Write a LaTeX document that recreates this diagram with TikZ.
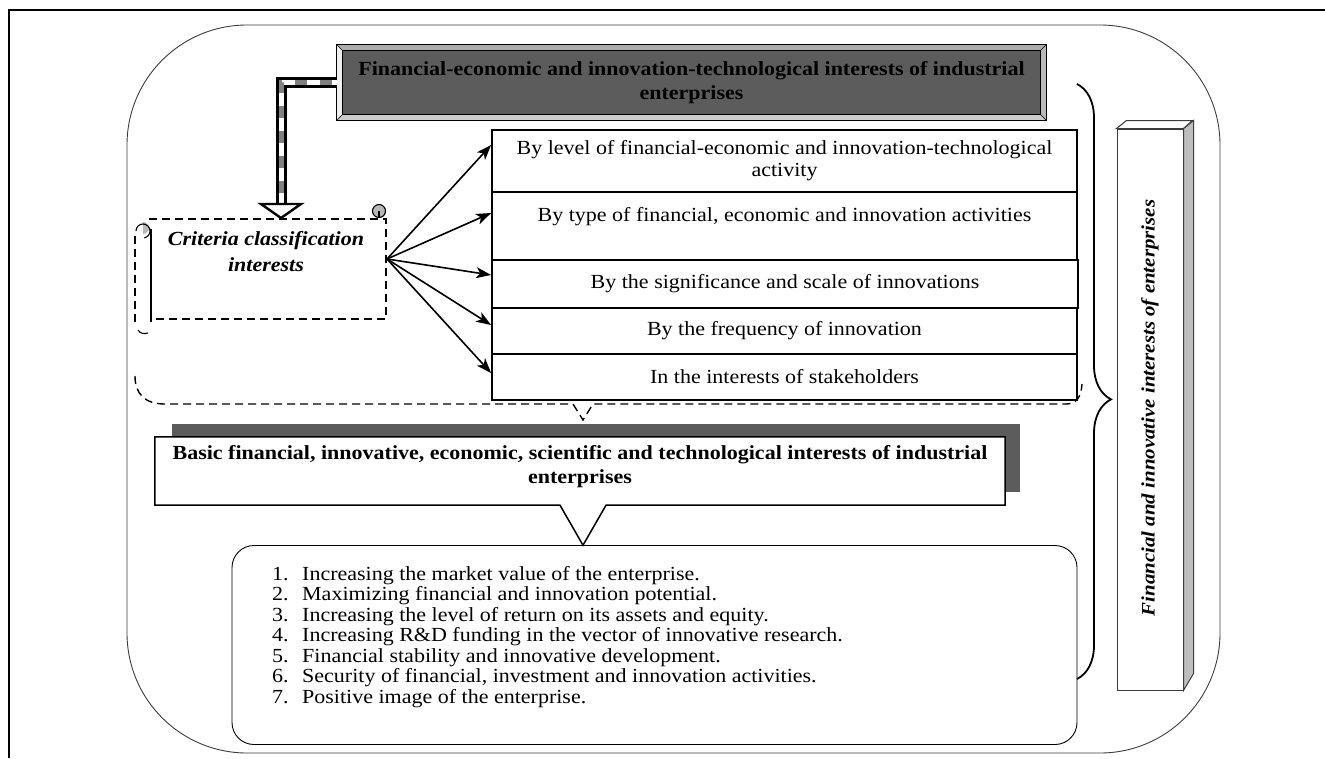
\documentclass[tikz,border=0pt]{standalone}
\usepackage{fontspec}
\setmainfont{Liberation Serif}[FakeStretch=1.1]
\usetikzlibrary{arrows.meta,decorations.pathreplacing,calc}
\definecolor{darkbox}{RGB}{92,92,92}
\definecolor{sidegray}{RGB}{190,190,190}
\definecolor{framegray}{RGB}{60,60,60}
\begin{document}
\begin{tikzpicture}[x=1pt,y=-1pt,
  rowbox/.style={draw, line width=1.8pt, minimum width=585pt, inner sep=0pt, align=center, font=\fontsize{20}{22}\selectfont},
  arr/.style={-{Stealth[length=15pt,width=11pt,inset=4pt]}, line width=1.6pt},
  mydash/.style={dash pattern=on 8pt off 5pt, line width=1.4pt},
  listitem/.style={anchor=base west, inner sep=0pt, font=\fontsize{20}{21}\selectfont},
  boldtxt/.style={align=center, font=\fontsize{20}{24}\selectfont\bfseries, inner sep=0pt}
]
\useasboundingbox (0,0) rectangle (1325,758);
% outer frame
\draw[line width=2.5pt] (9,758) -- (9,10) -- (1325,10);
\draw[framegray, line width=0.9pt, rounded corners=120pt] (127,25) rectangle (1220,753);

% title box with bevel
\node[draw, line width=1.2pt, fill=gray!45, minimum width=709pt, minimum height=75pt, inner sep=0pt] (title) at (691.5,82.5) {};
\fill[gray!12] (title.north west) -- ++(6,6) -- ($(title.south west)+(6,-6)$) -- (title.south west) -- cycle;
\fill[gray!65] (title.north west) -- ++(6,6) -- ($(title.north east)+(-6,6)$) -- (title.north east) -- cycle;
\fill[gray!40] (title.south west) -- ++(6,-6) -- ($(title.south east)+(-6,-6)$) -- (title.south east) -- cycle;
\fill[gray!55] (title.north east) -- ++(-6,6) -- ($(title.south east)+(-6,-6)$) -- (title.south east) -- cycle;
\draw[line width=1.2pt] (title.north west) rectangle (title.south east);
\draw[line width=0.8pt, fill=darkbox] ($(title.north west)+(6,6)$) rectangle ($(title.south east)+(-6,-6)$);
\draw[line width=0.6pt] (title.north west) -- ++(6,6) (title.north east) -- ++(-6,6)
  (title.south west) -- ++(6,-6) (title.south east) -- ++(-6,-6);
\node[boldtxt] (titletext) at (691.5,82.5) {Financial-economic and innovation-technological interests of industrial\\enterprises};

% double arrow
\coordinate (ahead) at (281,204);
\draw[line width=11pt, miter limit=10] (title.west) -| (ahead);
\draw[white, line width=5pt] ($(title.west)+(1,0)$) -| (ahead);
\draw[gray, line width=5pt, dash pattern=on 12pt off 13pt, dash phase=20pt] ($(title.west)+(1,0)$) -| (ahead);
\draw[line width=2.4pt, fill=white, line join=miter] ($(ahead)+(-20,0)$) -- ($(ahead)+(20,0)$) -- ($(ahead)+(0,14)$) -- cycle;

% criteria scroll
\draw[mydash] (149,219) -- (386,219) -- (386,319) -- (153,319);
\draw[mydash] (135,236) -- (135,326);
\draw[line width=1.2pt] (151,229) -- (151,322);
\fill[gray!55] (143,222) arc[start angle=270, end angle=450, radius=6] -- cycle;
\draw[line width=1.1pt] (136,231) arc[start angle=180, end angle=440, radius=7];
\draw[line width=1.1pt] (138,330) .. controls (140,334) and (145,334) .. (148,333);
\draw[line width=1.1pt, fill=gray!55] (379,211) circle (6.5);
\draw[line width=1.1pt] (379,211) -- (379,218);
\node[boldtxt, font=\fontsize{20}{26}\selectfont\bfseries\itshape] (crit) at (266,252) {Criteria classification\\interests};
\coordinate (critout) at (387,259);

% rows
\node[rowbox, minimum height=62pt] (r1) at (784.5,161) {By level of financial-economic and innovation-technological\\activity};
\node[rowbox, minimum height=68pt] (r2) at (784.5,226) {By type of financial, economic and innovation activities\\[2pt]\mbox{}};
\node[rowbox, minimum height=48pt, minimum width=586pt] (r3) at (785,284) {By the significance and scale of innovations};
\node[rowbox, minimum height=46pt] (r4) at (784.5,331) {By the frequency of innovation};
\node[rowbox, minimum height=46pt] (r5) at (784.5,377) {In the interests of stakeholders};

\draw[arr] (critout) -- ([yshift=16pt]r1.west);
\draw[arr] (critout) -- ([yshift=13pt]r2.west);
\draw[arr] (critout) -- ([yshift=9pt]r3.west);
\draw[arr] (critout) -- ([yshift=6pt]r4.west);
\draw[arr] (critout) -- ([yshift=4pt]r5.west);

% big dashed callout bottom
\draw[mydash] (135,376) .. controls (135,394) and (145,404) .. (165,404) -- (573,404) -- (583,420) -- (593,404) -- (1066,404) .. controls (1076,404) and (1081,398) .. (1082,384);

% brace
\draw[line width=1.8pt, decorate, decoration={brace, amplitude=34pt, aspect=0.53}] (1077,84) -- (1077,679);

% vertical 3D box
\node[draw=framegray, line width=1pt, fill=white, minimum width=66pt, minimum height=561pt, inner sep=0pt] (vbox) at (1150,409.5) {};
\draw[framegray, line width=1pt, fill=white] (vbox.north west) -- ++(10,-8) -- ++(66,0) -- (vbox.north east) -- cycle;
\draw[framegray, line width=1pt, fill=sidegray] (vbox.north east) -- ++(10,-8) -- ++(0,553) -- (vbox.south east) -- cycle;
\node[rotate=90, inner sep=0pt, font=\fontsize{19}{22}\selectfont\bfseries\itshape] (vtext) at (1150,408) {Financial and innovative interests of enterprises};

% list box
\node[draw, line width=0.9pt, rounded corners=22pt, minimum width=845pt, minimum height=199pt, inner sep=0pt] (list) at (654.5,645) {};
\node[listitem] (l1) at (272,580) {\makebox[30pt][l]{1.}Increasing the market value of the enterprise.};
\node[listitem] (l2) at (272,600.5) {\makebox[30pt][l]{2.}Maximizing financial and innovation potential.};
\node[listitem] (l3) at (272,621) {\makebox[30pt][l]{3.}Increasing the level of return on its assets and equity.};
\node[listitem] (l4) at (272,641.5) {\makebox[30pt][l]{4.}Increasing R\&D funding in the vector of innovative research.};
\node[listitem] (l5) at (272,662) {\makebox[30pt][l]{5.}Financial stability and innovative development.};
\node[listitem] (l6) at (272,682.5) {\makebox[30pt][l]{6.}Security of financial, investment and innovation activities.};
\node[listitem] (l7) at (272,703) {\makebox[30pt][l]{7.}Positive image of the enterprise.};

% basic box with shadow and pointer
\node[fill=darkbox, minimum width=848pt, minimum height=68pt, inner sep=0pt] (basicshadow) at (596,458) {};
\node[fill=white, minimum width=850pt, minimum height=68pt, inner sep=0pt] (basic) at (580,471) {};
\draw[line width=1.5pt, fill=white, line join=miter] (basic.north west) -- (basic.north east) -- (basic.south east) -- ($(basic.south)+(26,0)$) -- ($(basic.south)+(3,40)$) -- ($(basic.south)+(-20,0)$) -- (basic.south west) -- cycle;
\node[boldtxt] (basictext) at (580,467) {Basic financial, innovative, economic, scientific and technological interests of industrial\\enterprises};
\end{tikzpicture}
\end{document}
